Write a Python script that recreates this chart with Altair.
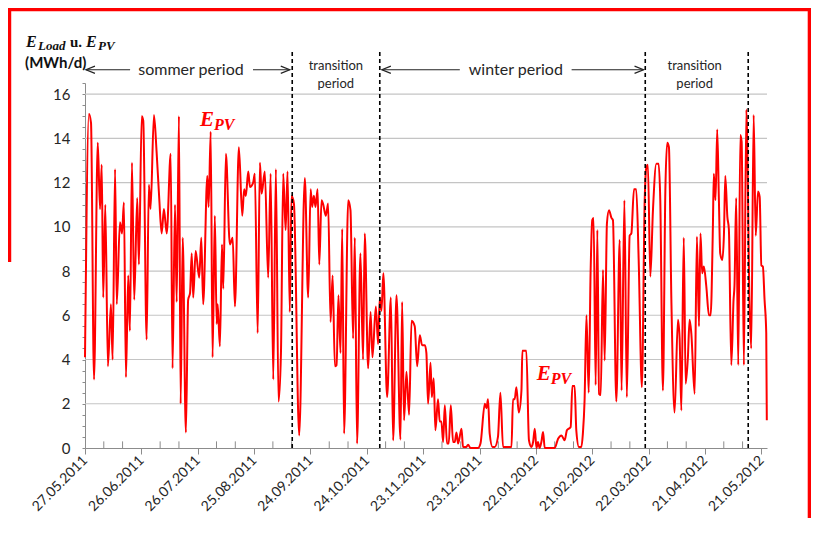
import json
import altair as alt
import pandas as pd

# ---------------- data ----------------
tick_labels = ["27.05.2011", "26.06.2011", "26.07.2011", "25.08.2011", "24.09.2011",
               "24.10.2011", "23.11.2011", "23.12.2011", "22.01.2012", "21.02.2012",
               "22.03.2012", "21.04.2012", "21.05.2012"]

# day offset from 27.05.2011 and daily PV energy (MWh/d), read at peaks/troughs
day = [0.0, 2.1, 3.2, 4.8, 6.8, 8.0, 8.9, 9.7, 10.8, 12.2,
       13.8, 14.7, 16.0, 16.9, 18.6, 19.7, 20.7, 21.8, 23.0, 23.9,
       25.0, 26.2, 27.8, 28.7, 30.2, 31.0, 32.8, 34.0, 34.9, 36.7,
       38.1, 39.5, 40.8, 42.0, 43.5, 45.6, 46.6, 47.9, 48.8, 50.0,
       50.9, 52.0, 53.7, 54.9, 55.9, 56.8, 57.6, 58.9, 60.8, 61.9,
       62.9, 65.1, 65.8, 66.9, 67.9, 69.1, 70.1, 70.6, 71.8, 72.9,
       73.6, 75.0, 77.1, 78.6, 79.8, 81.9, 83.7, 84.7, 85.6, 86.9,
       87.8, 89.5, 90.4, 91.9, 93.1, 94.0, 95.7, 97.5, 98.8, 100.2,
       101.6, 103.0, 104.3, 105.5, 106.8, 107.8, 109.0, 109.9, 111.2, 114.0,
       117.0, 118.8, 120.1, 120.9, 121.8, 122.7, 123.8, 124.7, 125.9, 126.8,
       128.2, 129.4, 130.7, 131.8, 133.0, 133.9, 134.9, 136.0, 136.9, 137.9,
       140.1, 141.3, 142.7, 143.6, 144.8, 146.6, 148.0, 148.9, 150.7, 152.0,
       153.0, 154.8, 156.0, 156.9, 157.8, 158.8, 160.8, 162.8, 164.0, 165.8,
       167.9, 168.8, 169.8, 171.1, 172.5, 173.8, 175.5, 176.8, 178.2, 179.4,
       180.9, 181.7, 182.6, 183.9, 184.6, 185.6, 186.5, 187.9, 188.8, 189.7,
       190.6, 191.5, 192.7, 193.6, 194.7, 195.9, 196.8, 197.7, 198.6, 200.4,
       201.2, 203.0, 203.9, 205.2, 209.2, 210.5, 212.8, 213.7, 214.5, 215.4,
       216.9, 218.1, 219.8, 221.1, 222.5, 227.0, 227.8, 228.7, 229.6, 230.9,
       232.3, 232.8, 234.9, 236.3, 237.6, 238.5, 239.4, 240.3, 241.1, 242.0,
       242.9, 243.8, 244.7, 250.0, 251.8, 253.6, 255.3, 256.5, 257.4, 258.5,
       259.4, 260.6, 261.5, 262.9, 264.2, 265.0, 265.9, 266.9, 268.1, 269.1,
       270.0, 270.7, 271.8, 272.7, 273.6, 274.5, 275.7, 276.6, 277.8, 278.9,
       280.2, 281.0, 282.8, 284.6, 285.6, 287.1, 288.4, 289.9, 290.8, 292.2,
       293.4, 294.7, 296.4, 297.9, 298.8, 299.6, 300.9, 302.3, 304.1, 305.3,
       306.2, 307.6, 308.9, 309.9, 310.8, 312.1, 313.8, 315.6, 316.5, 317.4,
       318.7, 319.7, 320.9, 321.8, 322.7, 324.5, 325.7, 326.8, 327.6, 328.5,
       329.4, 330.7, 332.1, 333.0, 334.2, 334.7, 335.6, 336.5, 337.4, 338.1,
       339.2, 340.1, 340.8, 341.9, 342.7, 344.0, 345.2, 345.7, 346.6, 347.7,
       348.8, 349.5, 350.7, 352.0, 353.7, 354.6, 355.9, 357.0, 358.2, 359.1,
       360.0, 360.8, 361.7, 362.6, 362.9]

epv = [4.1, 15.1, 14.7, 3.1, 13.8, 10.8, 12.8, 6.8, 11.0, 3.7,
       6.5, 4.0, 12.6, 6.5, 10.2, 9.7, 11.1, 3.2, 7.8, 5.3,
       12.9, 6.7, 11.3, 8.3, 15.0, 14.8, 4.9, 11.9, 10.8, 15.05,
       13.4, 11.3, 9.7, 10.8, 9.7, 13.3, 3.6, 11.0, 6.6, 15.0,
       2.0, 9.5, 0.7, 6.7, 7.0, 8.8, 6.8, 8.9, 7.7, 9.5,
       6.5, 12.3, 10.9, 14.3, 4.1, 10.5, 5.6, 6.5, 4.6, 9.2,
       7.2, 13.3, 9.2, 9.5, 6.4, 13.6, 10.5, 11.7, 11.4, 12.5,
       11.8, 12.0, 12.4, 5.2, 12.9, 11.5, 12.5, 7.7, 12.4, 3.1,
       12.6, 2.1, 4.3, 12.4, 9.85, 12.5, 6.15, 11.4, 11.05, 0.57,
       12.2, 6.8, 11.7, 10.9, 11.4, 10.9, 11.7, 8.3, 11.2, 11.0,
       10.5, 11.05, 5.7, 7.8, 3.7, 3.75, 6.9, 4.3, 9.9, 0.65,
       11.2, 10.75, 4.95, 9.5, 0.2, 8.8, 4.0, 9.7, 3.6, 6.15,
       4.1, 6.4, 4.7, 6.8, 6.2, 7.9, 2.3, 6.8, 0.35, 6.9,
       0.38, 6.6, 1.25, 3.45, 1.5, 5.75, 5.5, 3.7, 5.1, 4.65,
       4.65, 4.3, 2.0, 3.85, 2.3, 3.15, 0.8, 2.2, 1.2, 1.2,
       0.27, 1.93, 0.2, 0.2, 1.93, 0.27, 0.27, 0.7, 0.2, 0.87,
       0.05, 0.05, 0.15, 0.0, 0.0, 0.2, 2.0, 1.8, 2.2, 0.65,
       0.05, 0.05, 0.5, 2.5, 0.05, 0.05, 2.2, 2.2, 2.75, 1.6,
       2.6, 4.4, 4.4, 0.35, 0.05, 0.27, 0.87, 0.0, 0.27, 0.0,
       0.27, 0.72, 0.0, 0.0, 0.42, 0.57, 0.35, 0.8, 0.87, 0.95,
       2.8, 2.8, 0.8, 0.05, 0.05, 0.65, 2.15, 6.0, 2.5, 7.9,
       10.3, 10.4, 2.85, 9.85, 2.45, 2.4, 8.05, 3.95, 10.15, 10.75,
       10.4, 10.3, 2.1, 9.4, 2.6, 11.2, 2.3, 9.6, 9.7, 11.7,
       11.7, 8.5, 2.75, 11.2, 12.7, 12.8, 7.75, 10.75, 12.85, 12.85,
       11.2, 2.6, 11.65, 13.8, 13.6, 6.7, 1.6, 5.8, 4.95, 1.7,
       9.5, 2.9, 4.1, 5.8, 5.2, 2.45, 9.55, 5.5, 9.7, 7.9,
       8.2, 7.3, 6.0, 6.0, 10.0, 12.4, 11.2, 14.4, 11.2, 8.8,
       8.5, 9.7, 12.3, 10.45, 9.9, 3.75, 6.7, 7.35, 11.3, 3.75,
       14.15, 13.85, 3.75, 15.3, 6.6, 4.5, 15.05, 9.6, 11.6, 11.35,
       8.25, 8.2, 6.7, 5.2, 1.25]

# period boundaries (day offsets of the dashed lines)
period_bounds = [110.3, 156.9, 298.2, 353.0]
major_days = list(range(0, 361, 30))
minor_days = [d for d in range(10, 361, 10) if d % 30 != 0]
y_ticks = [i * 0.5 for i in range(34)]
grid_values = [2, 4, 6, 8, 10, 12, 14, 16]

# annotation texts and anchors (in data units: day, MWh/d)
period_labels = pd.DataFrame({"day": [56.4, 229.3], "val": [17.1, 17.1],
                              "text": ["sommer period", "winter period"]})
transition_labels = pd.DataFrame({"day": [133.5, 133.5, 324.5, 324.5],
                                  "val": [17.27, 16.45, 17.27, 16.45],
                                  "text": ["transition", "period", "transition", "period"]})
arrow_lines = pd.DataFrame({"d0": [0.5, 89.4, 158.0, 259.0], "d1": [24.0, 109.0, 199.5, 297.3],
                            "val": [17.1, 17.1, 17.1, 17.1]})
arrow_heads = pd.DataFrame({"day": [2.9, 106.6, 160.4, 294.9], "val": [17.1] * 4,
                            "dir": ["L", "R", "L", "R"]})
epv_big = pd.DataFrame({"day": [61.2, 240.4], "val": [14.55, 3.06], "text": ["E", "E"]})
epv_sub = pd.DataFrame({"day": [68.6, 247.9], "val": [14.37, 2.88], "text": ["PV", "PV"]})
title_big = pd.DataFrame({"day": [-31.4, 0.5], "val": [18.13, 18.13], "text": ["E", "E"]})
title_sub = pd.DataFrame({"day": [-25.0, 6.9], "val": [17.98, 17.98], "text": ["Load", "PV"]})
title_mid = pd.DataFrame({"day": [-8.0], "val": [18.13], "text": ["u."]})
title_unit = pd.DataFrame({"day": [-31.9], "val": [17.19], "text": ["(MWh/d)"]})

# ---------------- chart ----------------
df = pd.DataFrame({"day": day, "epv": epv})
xs = alt.Scale(domain=[0, 363], nice=False, zero=False)
ys = alt.Scale(domain=[0, 16.5], nice=False, zero=False)
SANS = "Lato"
SERIF = "Liberation Serif"
AX = "#8c8c8c"

label_expr = "datum.value % 30 == 0 ? " + json.dumps(tick_labels) + "[round(datum.value / 30)] : ''"

x_axis = alt.Axis(
    values=major_days, labelExpr=label_expr, labelAngle=-45, labelAlign="right",
    labelBaseline="middle", labelPadding=4, labelFlush=False, labelOverlap=False,
    tickSize=6, tickColor=AX, domainColor=AX, grid=False, title=None,
    labelFont=SANS, labelFontSize=14, labelColor="#262626")
y_axis = alt.Axis(
    values=y_ticks, labelExpr="datum.value % 2 == 0 ? datum.value : ''",
    tickSize=3, tickColor=AX, domainColor=AX, grid=False, title=None,
    labelPadding=12, labelOverlap=False, labelFont=SANS, labelFontSize=15,
    labelColor="#262626")


def X(field):
    return alt.X(field, scale=xs, axis=x_axis)


def Y(field):
    return alt.Y(field, scale=ys, axis=y_axis)


grid = alt.Chart(pd.DataFrame({"g": grid_values})).mark_rule(
    color="#c4c4c4", strokeWidth=1.2).encode(y=Y("g:Q"))

minor = alt.Chart(pd.DataFrame({"day": minor_days, "y0": 0.0, "y1": 0.3})).mark_rule(
    color=AX, strokeWidth=1).encode(x=X("day:Q"), y=Y("y0:Q"), y2="y1:Q")

line = alt.Chart(df).mark_line(color="#ff0000", strokeWidth=2, interpolate="monotone").encode(
    x=X("day:Q"), y=Y("epv:Q"))

dashed = alt.Chart(pd.DataFrame({"day": period_bounds, "y0": 0.0, "y1": 18.0})).mark_rule(
    color="black", strokeWidth=1.6, strokeDash=[4, 3]).encode(
    x=X("day:Q"), y=Y("y0:Q"), y2="y1:Q")

arr = alt.Chart(arrow_lines).mark_rule(color="#222", strokeWidth=1.2).encode(
    x=X("d0:Q"), x2="d1:Q", y=Y("val:Q"))

heads_l = alt.Chart(arrow_heads[arrow_heads["dir"] == "L"]).mark_point(
    shape="M1,-0.8L-1,0L1,0.8", size=81, filled=False, color="#222", strokeWidth=1.2,
    opacity=1).encode(x=X("day:Q"), y=Y("val:Q"))
heads_r = alt.Chart(arrow_heads[arrow_heads["dir"] == "R"]).mark_point(
    shape="M-1,-0.8L1,0L-1,0.8", size=81, filled=False, color="#222", strokeWidth=1.2,
    opacity=1).encode(x=X("day:Q"), y=Y("val:Q"))


def text_layer(data, font, size, color="#222", weight="normal", style="normal",
               align="center", baseline="middle"):
    return alt.Chart(data).mark_text(font=font, fontSize=size, color=color, fontWeight=weight,
                                     fontStyle=style, align=align, baseline=baseline).encode(
        x=X("day:Q"), y=Y("val:Q"), text="text:N")


t_period = text_layer(period_labels, SANS, 16, "#262626")
t_trans = text_layer(transition_labels, SANS, 13, "#262626")
t_epv1 = text_layer(epv_big, SERIF, 21, "#ff0000", "bold", "italic", "left", "alphabetic")
t_epv2 = text_layer(epv_sub, SERIF, 16, "#ff0000", "bold", "italic", "left", "alphabetic")
t_tit1 = text_layer(title_big, SERIF, 16, "#111", "bold", "italic", "left", "alphabetic")
t_tit2 = text_layer(title_sub, SERIF, 13, "#111", "bold", "italic", "left", "alphabetic")
t_tit3 = text_layer(title_mid, SERIF, 15, "#111", "bold", "normal", "left", "alphabetic")
t_unit = text_layer(title_unit, SANS, 15, "#111", "bold", "normal", "left", "alphabetic")

# red frame of the reference picture
frame_h = pd.DataFrame({"d0": [-40.2], "d1": [385.6], "val": [19.82]})
frame_v = pd.DataFrame({"day": [-40.2, 385.6], "v0": [19.89, 19.89], "v1": [8.41, -4.0]})
fr_top = alt.Chart(frame_h).mark_rule(color="#ff0000", strokeWidth=3.5).encode(
    x=X("d0:Q"), x2="d1:Q", y=Y("val:Q"))
fr_side = alt.Chart(frame_v).mark_rule(color="#ff0000", strokeWidth=3.5).encode(
    x=X("day:Q"), y=Y("v0:Q"), y2="v1:Q")

chart = alt.layer(
    grid, minor, line, dashed, arr, heads_l, heads_r,
    t_period, t_trans, t_epv1, t_epv2, t_tit1, t_tit2, t_tit3, t_unit, fr_top, fr_side
).properties(
    width=682, height=365, autosize=alt.AutoSizeParams(type="none"),
    padding={"left": 77, "top": 75, "right": 44, "bottom": 70},
    background="white",
).configure_view(stroke=None)

chart.save("out.html", embed_options={"renderer": "svg", "actions": False})
